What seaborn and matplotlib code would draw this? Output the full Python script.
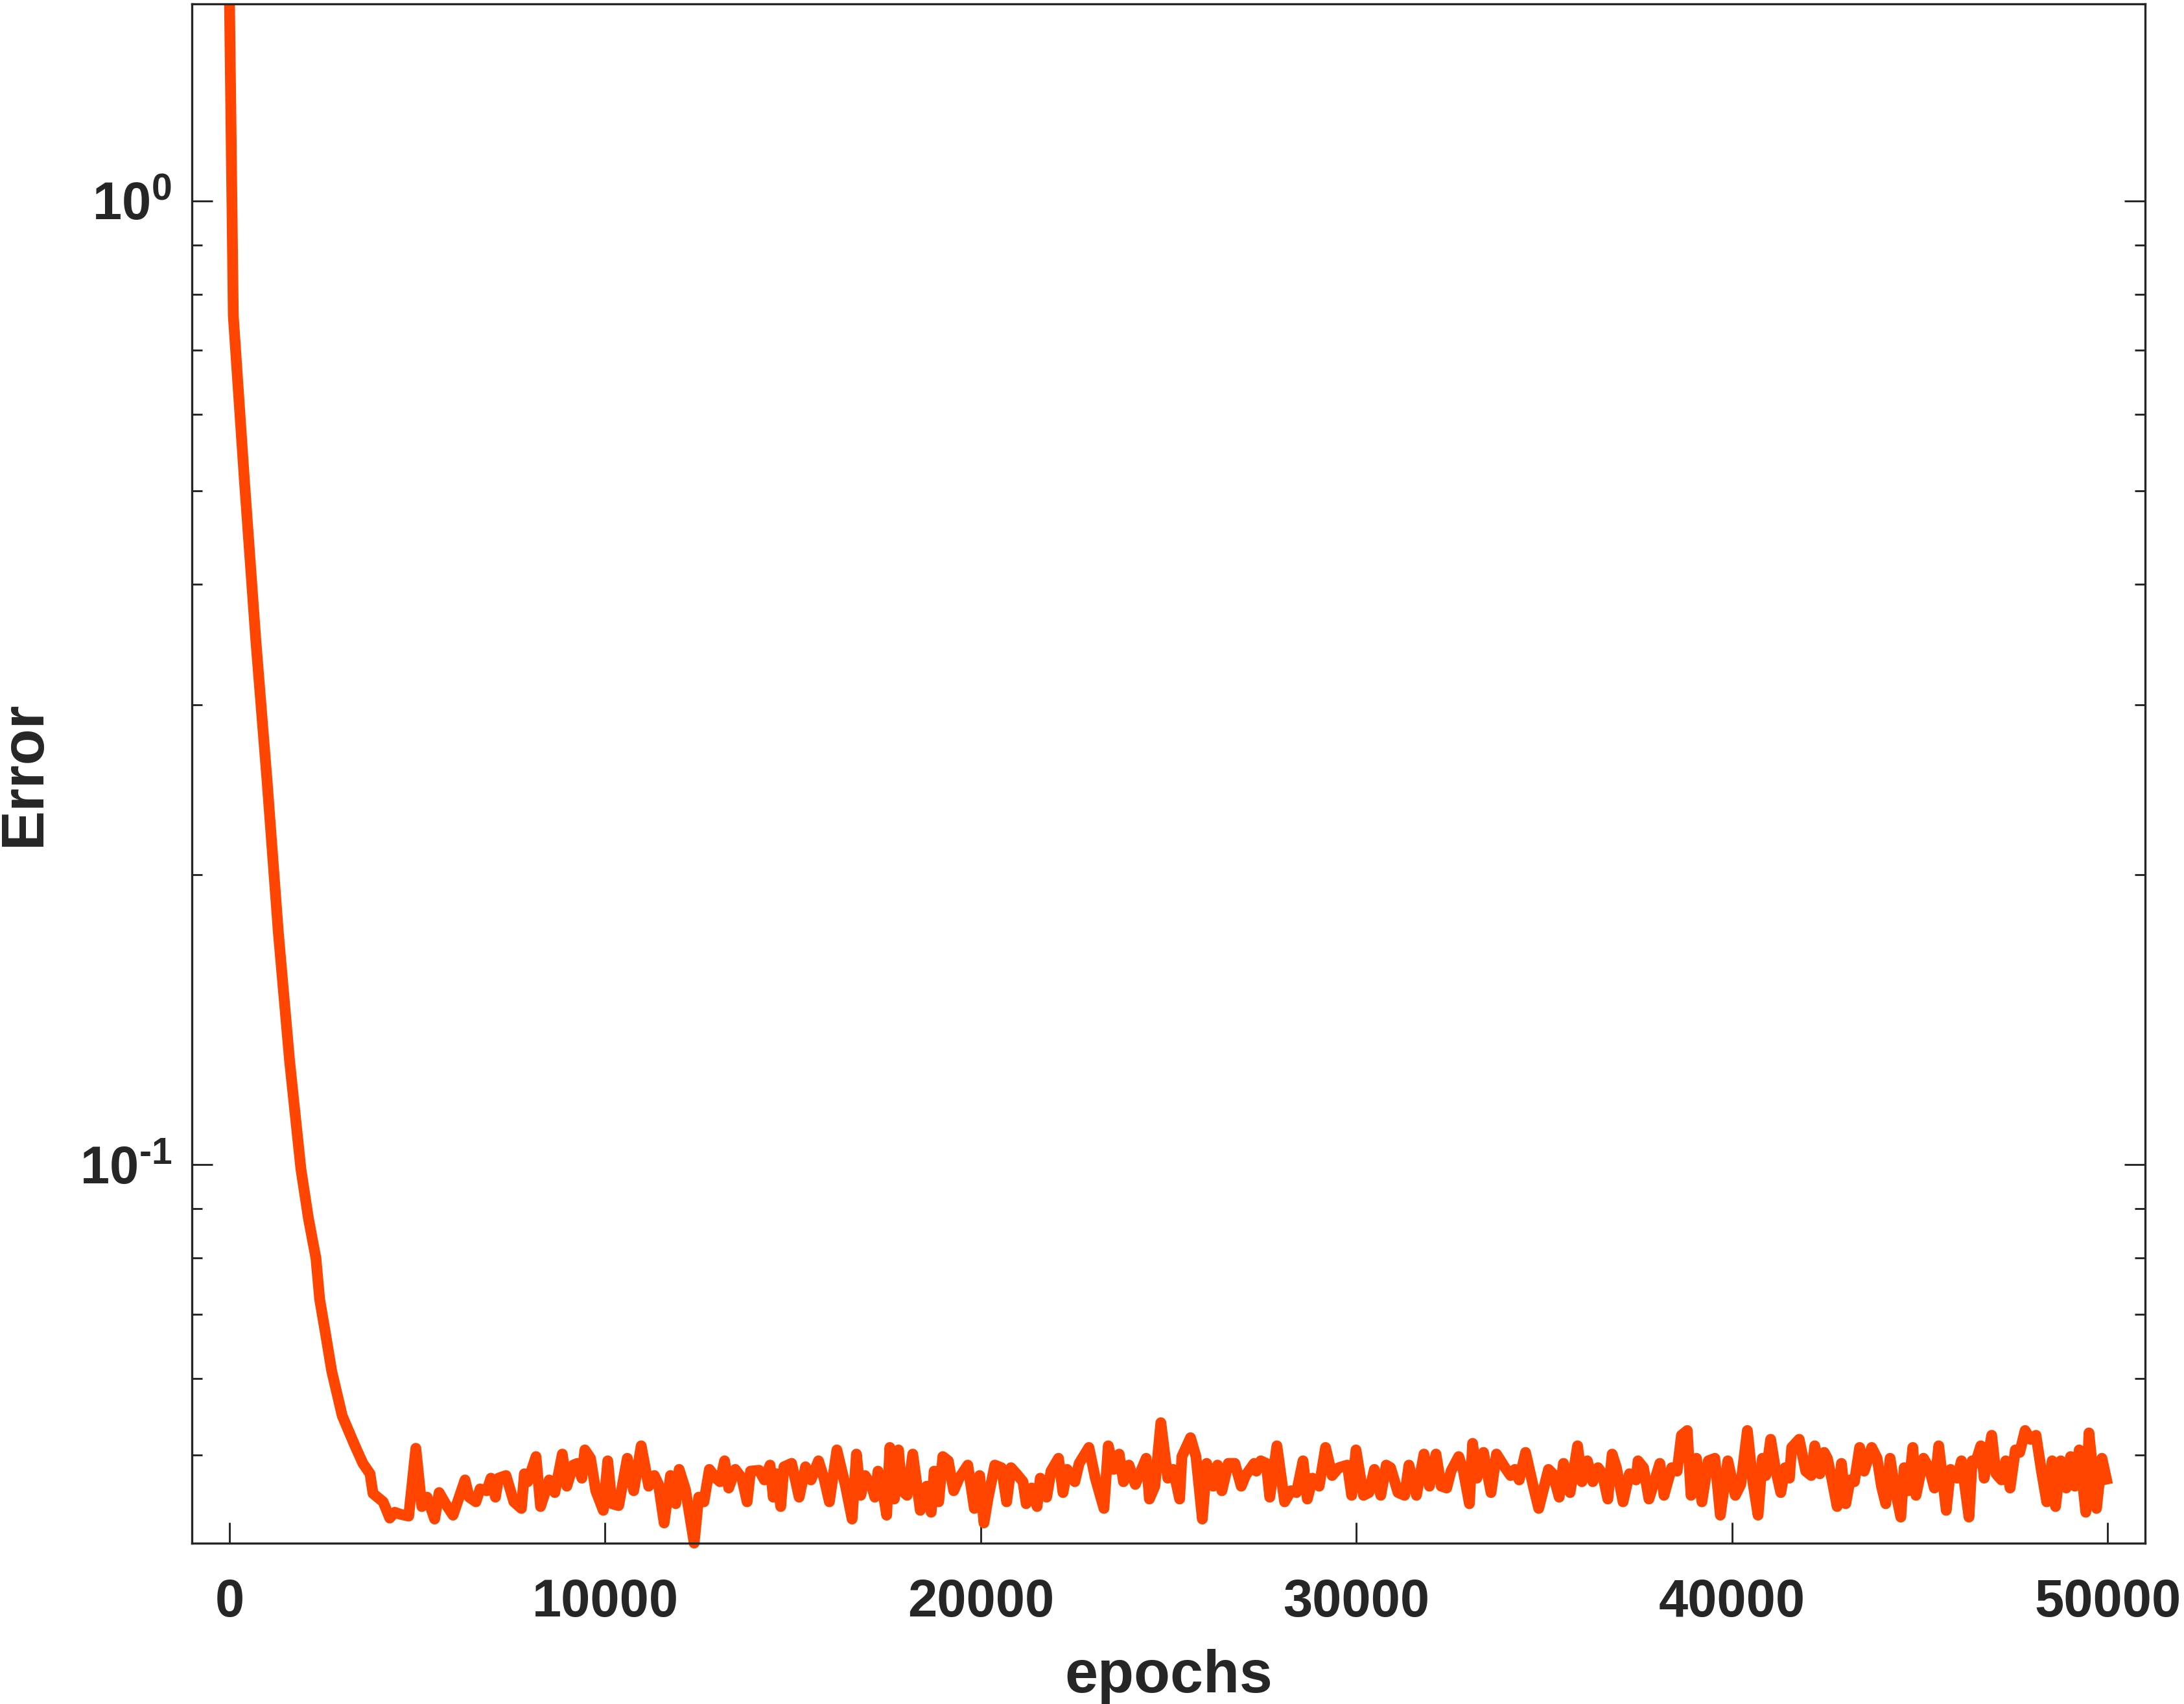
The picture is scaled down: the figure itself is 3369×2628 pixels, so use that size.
import matplotlib
matplotlib.use("Agg")
import matplotlib.pyplot as plt
import numpy as np
import pandas as pd
import seaborn as sns
from matplotlib.ticker import MultipleLocator, LogLocator, FuncFormatter, NullFormatter

# training error
# fast initial decay
decay_epochs = [0, 100, 400, 700, 1000, 1300, 1600, 1900, 2100, 2300, 2400, 2550,
                2720, 3000, 3330, 3550, 3740, 3820, 4090, 4265, 4400, 4540, 4770, 4960]
decay_error = [1.60, 0.76, 0.51, 0.35, 0.25, 0.174, 0.128, 0.099, 0.088, 0.080, 0.0725, 0.0670,
               0.0611, 0.0549, 0.0512, 0.0490, 0.0478, 0.0456, 0.0447, 0.0430, 0.0436, 0.0434, 0.0432, 0.0508]

# noisy plateau
plateau_epochs = [
    5120, 5260, 5460, 5580, 5750, 5950, 6270, 6380, 6560, 6670, 6850, 6960, 7080, 7160, 7360,
    7570, 7770, 7850, 7940, 8160, 8280, 8510, 8660, 8860, 8980, 9150, 9260, 9380, 9460, 9610,
    9750, 9950, 10070, 10180, 10360, 10590, 10760, 10960, 11160, 11310, 11420, 11570, 11740,
    11880, 11970, 12140,
    12370, 12490, 12630, 12775, 12950, 13060, 13180, 13290, 13465, 13640, 13780, 13870, 14100,
    14240, 14390, 14475, 14560, 14675, 14760, 14965, 15165, 15335, 15480, 15680, 15825, 15970,
    16170, 16400, 16575, 16690, 16805, 16920, 17095, 17180, 17265, 17380, 17495, 17580, 17700,
    17810, 17900, 18040, 18190, 18390, 18560, 18680, 18760, 18880, 18990, 19135, 19280, 19425,
    19655,
    19830, 19970, 20085, 20200, 20375, 20550, 20690, 20805, 20950, 21125, 21210, 21355, 21500,
    21585, 21755, 21870, 22070, 22190, 22300, 22505, 22620, 22880, 23050, 23280, 23395, 23540,
    23685, 23800, 23945, 24115, 24405, 24490, 24635, 24795, 24980, 25125, 25295, 25355, 25585,
    25730, 25900, 26015, 26190, 26305, 26420, 26590, 26765, 26935, 27050, 27280,
    27340, 27455, 27600, 27695, 27885, 28090, 28260, 28405, 28580, 28695, 28835, 29010, 29180,
    29355, 29530, 29760, 29875, 29990, 30190, 30335, 30480, 30650, 30795, 30910, 31110, 31285,
    31400, 31600, 31800, 31945, 32120, 32260, 32405, 32520, 32725, 32840, 33010, 33095, 33210,
    33385, 33585, 33730, 33960, 34105, 34220, 34335, 34505, 34710, 34855,
    35115, 35230, 35400, 35515, 35690, 35890, 36005, 36150, 36295, 36435, 36550, 36695, 36810,
    36925, 37100, 37270, 37445, 37500, 37645, 37790, 38080, 38190, 38395, 38540, 38655, 38810,
    38910, 39055, 39200, 39370, 39545, 39690, 39890, 40090, 40235, 40410, 40555, 40695, 40810,
    40900, 41030, 41160, 41300, 41415, 41530, 41590, 41790, 41965, 42110, 42205, 42340, 42455,
    42540, 42655, 42800, 42915, 43030, 43145, 43260, 43400, 43520, 43720, 43865, 43980, 44095,
    44210, 44325, 44495, 44585, 44700, 44815, 44900, 45100, 45245, 45390, 45505, 45705, 45820,
    45995, 46110, 46310, 46395, 46480, 46625, 46715, 46915, 47030, 47175, 47290, 47405, 47545,
    47660, 47805, 47950, 48095, 48240, 48380, 48525, 48615, 48755, 48900, 49015, 49130, 49245,
    49420, 49505, 49705, 49850, 50000,
]
plateau_error = [
    0.0442, 0.0452, 0.0429, 0.0457, 0.0445, 0.0433, 0.0471, 0.0452, 0.0447, 0.0461, 0.0459, 0.0473, 0.0452, 0.0473, 0.0476,
    0.0447, 0.0440, 0.0478, 0.0469, 0.0498, 0.0442, 0.0471, 0.0457, 0.0501, 0.0464, 0.0488, 0.0490, 0.0473, 0.0506, 0.0496,
    0.0459, 0.0438, 0.0493, 0.0445, 0.0443, 0.0496, 0.0459, 0.0511, 0.0464, 0.0476, 0.0466, 0.0425, 0.0476,
    0.0445, 0.0483, 0.0460,
    0.0405, 0.0452, 0.0447, 0.0483, 0.0473, 0.0469, 0.0493, 0.0462, 0.0483, 0.0473, 0.0447, 0.0481, 0.0482,
    0.0471, 0.0488, 0.0452, 0.0478, 0.0442, 0.0486, 0.0490, 0.0452, 0.0486, 0.0471, 0.0493, 0.0473, 0.0447,
    0.0506, 0.0464, 0.0429, 0.0501, 0.0454, 0.0476, 0.0464, 0.0452, 0.0481, 0.0462, 0.0433, 0.0509, 0.0450,
    0.0506, 0.0459, 0.0454, 0.0501, 0.0438, 0.0464, 0.0436, 0.0481, 0.0447, 0.0498, 0.0493, 0.0459, 0.0473,
    0.0488,
    0.0440, 0.0476, 0.0425, 0.0452, 0.0488, 0.0485, 0.0447, 0.0485, 0.0478, 0.0469, 0.0445, 0.0462, 0.0442,
    0.0473, 0.0452, 0.0481, 0.0496, 0.0457, 0.0483, 0.0469, 0.0490, 0.0509, 0.0473, 0.0440, 0.0511, 0.0483,
    0.0501, 0.0469, 0.0488, 0.0466, 0.0496, 0.0450, 0.0464, 0.0540, 0.0473, 0.0483, 0.0450, 0.0498, 0.0521,
    0.0498, 0.0429, 0.0490, 0.0464, 0.0488, 0.0459, 0.0490, 0.0490, 0.0464, 0.0476, 0.0490,
    0.0481, 0.0493, 0.0490, 0.0452, 0.0511, 0.0447, 0.0459, 0.0457, 0.0493, 0.0450, 0.0473, 0.0464, 0.0509,
    0.0476, 0.0485, 0.0488, 0.0454, 0.0506, 0.0454, 0.0457, 0.0483, 0.0454, 0.0488, 0.0485, 0.0457, 0.0454,
    0.0488, 0.0454, 0.0501, 0.0464, 0.0501, 0.0464, 0.0462, 0.0481, 0.0498, 0.0483, 0.0445, 0.0514, 0.0473,
    0.0503, 0.0457, 0.0501, 0.0485, 0.0476, 0.0483, 0.0471, 0.0503, 0.0464, 0.0440,
    0.0483, 0.0478, 0.0452, 0.0490, 0.0457, 0.0511, 0.0469, 0.0493, 0.0469, 0.0485, 0.0478, 0.0450, 0.0501,
    0.0485, 0.0447, 0.0478, 0.0471, 0.0493, 0.0485, 0.0450, 0.0490, 0.0454, 0.0485, 0.0481, 0.0524, 0.0530,
    0.0454, 0.0496, 0.0447, 0.0493, 0.0496, 0.0433, 0.0493, 0.0454, 0.0466, 0.0530, 0.0469, 0.0433, 0.0496,
    0.0476, 0.0519, 0.0483, 0.0457, 0.0485, 0.0473, 0.0509, 0.0519, 0.0481, 0.0476, 0.0511, 0.0478, 0.0503,
    0.0496, 0.0473, 0.0442, 0.0490, 0.0445, 0.0471, 0.0469, 0.0509, 0.0481, 0.0509, 0.0496, 0.0464, 0.0445,
    0.0496, 0.0464, 0.0431, 0.0485, 0.0459, 0.0509, 0.0454, 0.0496, 0.0485, 0.0462, 0.0511, 0.0438, 0.0483,
    0.0473, 0.0493, 0.0431, 0.0493, 0.0490, 0.0511, 0.0473, 0.0524, 0.0478, 0.0471, 0.0493, 0.0462, 0.0506,
    0.0503, 0.0530, 0.0519, 0.0524, 0.0481, 0.0447, 0.0493, 0.0442, 0.0493, 0.0462, 0.0498, 0.0464, 0.0506,
    0.0436, 0.0527, 0.0440, 0.0496, 0.0466,
]

LINE_COLOR = "#FF4500"
AXIS_COLOR = "#262626"

sns.set_theme(style="ticks")
plt.rcParams["font.family"] = ["Liberation Sans", "DejaVu Sans"]
plt.rcParams["font.weight"] = "bold"
plt.rcParams["mathtext.fontset"] = "custom"
plt.rcParams["mathtext.rm"] = "Liberation Sans:bold"
plt.rcParams["mathtext.bf"] = "Liberation Sans:bold"
plt.rcParams["mathtext.it"] = "Liberation Sans:bold"
plt.rcParams["mathtext.default"] = "rm"


def pow10_label(val, pos):
    # MATLAB-style 10^n with a short hyphen for the minus
    n = int(round(np.log10(val)))
    exp = str(n) if n >= 0 else r"\text{-}" + str(-n)
    return r"$10^{%s}$" % exp


df = pd.DataFrame({"epochs": decay_epochs + plateau_epochs,
                   "Error": decay_error + plateau_error})

fig = plt.figure(figsize=(3369 / 300, 2628 / 300), dpi=300)
ax = fig.add_axes([0.0879, 0.0944, 0.8943, 0.9033])

sns.lineplot(data=df, x="epochs", y="Error", ax=ax, color=LINE_COLOR,
             linewidth=4.0, estimator=None, sort=False)
line = ax.lines[0]
line.set_solid_joinstyle("round")
line.set_solid_capstyle("butt")
line.set_clip_on(False)

ax.set_yscale("log")
ax.set_xlim(-1000, 51000)
ax.set_ylim(df["Error"].min(), df["Error"].max())

ax.xaxis.set_major_locator(MultipleLocator(10000))
ax.yaxis.set_major_locator(LogLocator(base=10))
ax.yaxis.set_major_formatter(FuncFormatter(pow10_label))
ax.yaxis.set_minor_locator(LogLocator(base=10, subs=range(2, 10)))
ax.yaxis.set_minor_formatter(NullFormatter())

for sp in ax.spines.values():
    sp.set_visible(True)
    sp.set_color(AXIS_COLOR)
    sp.set_linewidth(0.8)

ax.tick_params(which="both", direction="in", top=False, right=True,
               color=AXIS_COLOR, width=0.7, labelcolor=AXIS_COLOR, labelsize=19.5)
ax.tick_params(which="major", length=7.7)
ax.tick_params(which="minor", length=3.8)
ax.tick_params(axis="x", pad=13)
ax.tick_params(axis="y", pad=7.5)

ax.set_xlabel("epochs", fontsize=22, fontweight="bold", color=AXIS_COLOR, labelpad=8)
ax.set_ylabel("Error", fontsize=22, fontweight="bold", color=AXIS_COLOR, labelpad=10)

fig.savefig("out.png", dpi=300)
plt.close(fig)
